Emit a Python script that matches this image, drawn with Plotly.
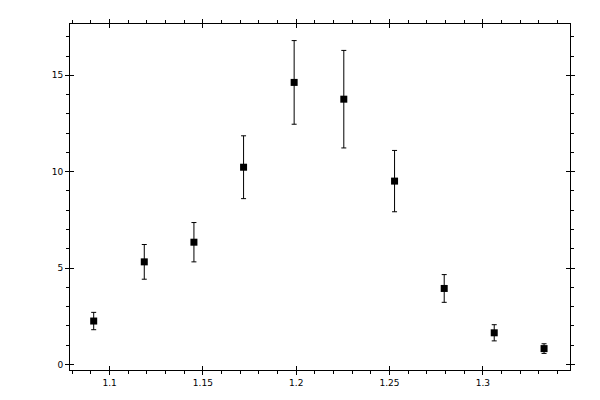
import plotly.graph_objects as go

x_vals = [1.0915, 1.1186, 1.1452, 1.1718, 1.1989, 1.2255, 1.2527, 1.2793, 1.3061, 1.3328]
y_vals = [2.25, 5.32, 6.34, 10.23, 14.63, 13.76, 9.51, 3.94, 1.64, 0.82]
y_err = [0.45, 0.90, 1.02, 1.63, 2.17, 2.53, 1.59, 0.72, 0.42, 0.25]

x_range = [1.0788, 1.3467]
y_range = [-0.29, 17.66]

fig = go.Figure()
fig.add_trace(go.Scatter(
    x=x_vals, y=y_vals, mode="markers",
    marker=dict(symbol="square", size=7, color="black"),
    error_y=dict(type="data", array=y_err, visible=True, color="black", thickness=1, width=2.5),
    showlegend=False, hoverinfo="skip",
))
# invisible trace to activate overlay axes (inside half of major ticks)
fig.add_trace(go.Scatter(x=[None], y=[None], xaxis="x2", yaxis="y2", showlegend=False))

font = dict(family="DejaVu Sans", size=9, color="black")
common = dict(showgrid=False, zeroline=False, linecolor="black", linewidth=1,
              tickcolor="black", tickwidth=1, tickfont=font)

fig.update_layout(
    width=600, height=400,
    margin=dict(l=62, r=38, t=11, b=38, pad=0),
    paper_bgcolor="white", plot_bgcolor="white",
    xaxis=dict(range=x_range, tick0=1.1, dtick=0.05, ticks="outside", ticklen=4,
               showline=True, mirror="ticks",
               minor=dict(dtick=0.01, tick0=1.1, ticks="outside", ticklen=3, tickcolor="black", tickwidth=1),
               **common),
    yaxis=dict(range=y_range, tick0=0, dtick=5, ticks="outside", ticklen=4,
               showline=True, mirror="ticks",
               minor=dict(dtick=1, tick0=0, ticks="outside", ticklen=3, tickcolor="black", tickwidth=1),
               **common),
    xaxis2=dict(range=x_range, overlaying="x", tick0=1.1, dtick=0.05, ticks="inside", ticklen=4,
                showline=False, mirror="ticks", showticklabels=False, showgrid=False,
                zeroline=False, tickcolor="black", tickwidth=1),
    yaxis2=dict(range=y_range, overlaying="y", tick0=0, dtick=5, ticks="inside", ticklen=4,
                showline=False, mirror="ticks", showticklabels=False, showgrid=False,
                zeroline=False, tickcolor="black", tickwidth=1),
)

fig.write_html("out.html")
